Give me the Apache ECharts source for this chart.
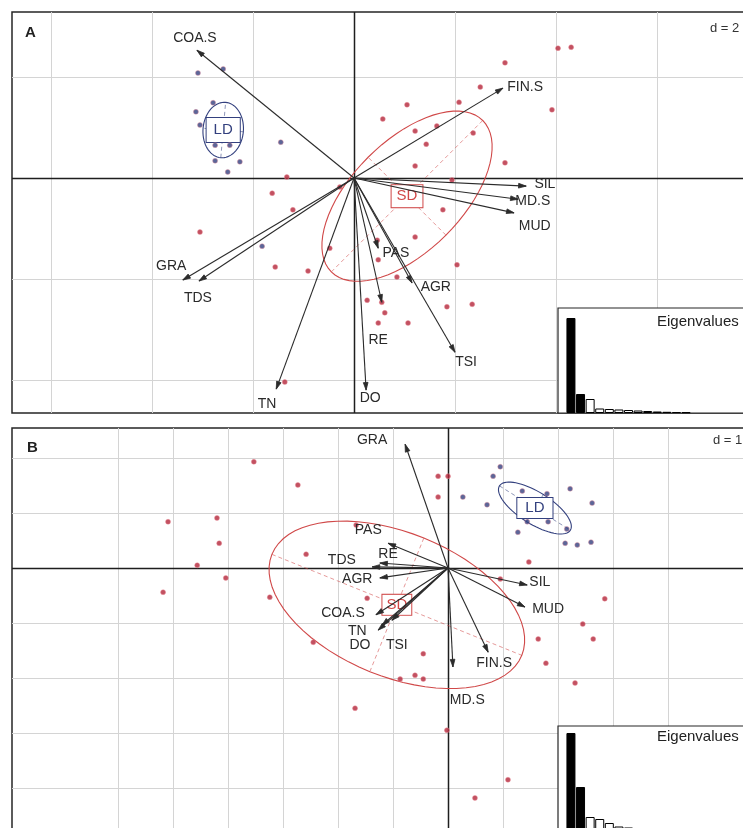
<!DOCTYPE html>
<html>
<head>
<meta charset="utf-8">
<script src="https://cdn.jsdelivr.net/npm/echarts/dist/echarts.min.js"></script>
<style>
  html, body { margin: 0; padding: 0; background: #fff; overflow: hidden; }
  #chart { width: 760px; height: 845px; }
</style>
</head>
<body>
<div id="chart"></div>
<script>
// variable names (same order for both panels)
const varNames = ['COA.S', 'FIN.S', 'SIL', 'MD.S', 'MUD', 'GRA', 'TDS', 'TN', 'DO', 'RE', 'PAS', 'AGR', 'TSI'];

// panel A: arrow tips and label anchors
const arrowA = [[-3.11, 2.53], [2.95, 1.78], [3.41, -0.16], [3.25, -0.42], [3.17, -0.69], [-3.39, -2.02], [-3.07, -2.04],
  [-1.54, -4.18], [0.24, -4.20], [0.55, -2.46], [0.48, -1.39], [1.15, -2.08], [2.00, -3.45]];
const labelA = [[-3.15, 2.77], [3.39, 1.80], [3.78, -0.12], [3.54, -0.46], [3.58, -0.95], [-3.62, -1.74], [-3.09, -2.38],
  [-1.72, -4.48], [0.32, -4.36], [0.48, -3.21], [0.83, -1.49], [1.62, -2.16], [2.22, -3.64]];

// panel B
const arrowB = [[-1.31, -0.85], [0.73, -1.53], [1.44, -0.31], [0.09, -1.80], [1.40, -0.71], [-0.78, 2.25], [-1.38, 0.02],
  [-1.27, -1.13], [-1.20, -1.04], [-1.24, 0.09], [-1.09, 0.45], [-1.24, -0.18], [-1.02, -0.95]];
const labelB = [[-1.91, -0.82], [0.84, -1.73], [1.67, -0.25], [0.35, -2.40], [1.82, -0.75], [-1.38, 2.33], [-1.93, 0.15],
  [-1.65, -1.15], [-1.60, -1.40], [-1.09, 0.25], [-1.45, 0.69], [-1.65, -0.20], [-0.93, -1.40]];

// sample scores
const ldA = [[-3.09, 2.08], [-2.59, 2.16], [-3.13, 1.31], [-2.79, 1.49], [-3.05, 1.05], [-2.75, 0.65], [-2.46, 0.65],
  [-2.75, 0.34], [-2.26, 0.32], [-2.50, 0.12], [-1.45, 0.71], [-1.82, -1.35]];
const sdA = [[4.04, 2.57], [4.30, 2.59], [2.99, 2.28], [2.50, 1.80], [3.92, 1.35], [1.05, 1.45], [2.08, 1.50], [0.57, 1.17],
  [1.21, 0.93], [1.64, 1.03], [1.43, 0.67], [2.36, 0.89], [2.99, 0.30], [1.21, 0.24], [1.94, -0.04], [-1.33, 0.02],
  [-1.62, -0.30], [-1.21, -0.63], [-0.28, -0.18], [1.76, -0.63], [1.21, -1.17], [0.46, -1.23], [-0.48, -1.39],
  [-1.56, -1.76], [-0.91, -1.84], [0.48, -1.62], [2.04, -1.72], [0.85, -1.96], [0.26, -2.42], [0.55, -2.46],
  [1.84, -2.55], [2.34, -2.50], [0.61, -2.67], [0.48, -2.87], [1.07, -2.87], [-1.37, -4.04], [-3.05, -1.07]];
const ldB = [[0.95, 1.84], [0.82, 1.67], [0.27, 1.29], [0.71, 1.15], [1.35, 1.40], [1.80, 1.35], [2.22, 1.44], [2.62, 1.18],
  [1.44, 0.84], [1.82, 0.84], [2.16, 0.71], [1.27, 0.65], [2.13, 0.45], [2.35, 0.42], [2.60, 0.47]];
const sdB = [[-3.53, 1.93], [-2.73, 1.51], [-5.09, 0.84], [-4.20, 0.91], [-4.16, 0.45], [-4.56, 0.05], [-4.04, -0.18],
  [-5.18, -0.44], [-3.24, -0.53], [-2.58, 0.25], [-1.67, 0.78], [-1.47, -0.55], [-2.45, -1.35], [-0.45, -1.56],
  [-0.87, -2.02], [-0.60, -1.95], [-0.45, -2.02], [-0.18, 1.67], [0.0, 1.67], [-0.18, 1.29], [1.47, 0.11], [0.95, -0.20],
  [2.85, -0.56], [2.45, -1.02], [2.64, -1.29], [1.64, -1.29], [1.78, -1.73], [2.31, -2.09], [-0.02, -2.95],
  [1.09, -3.85], [0.49, -4.18], [-1.69, -2.55]];

// class ellipses: centre x, centre y, semi-major, semi-minor, angle (deg)
const ellLdA = [-2.59, 0.95, 0.55, 0.40, 85];
const ellSdA = [1.05, -0.36, 2.12, 1.09, 45];
const ellLdB = [1.58, 1.09, 0.76, 0.29, -32];
const ellSdB = [-0.93, -0.67, 2.45, 1.31, -22];

// eigenvalue bars (relative heights)
const eigA = [9.5, 1.9, 1.4, 0.45, 0.4, 0.35, 0.3, 0.25, 0.2, 0.15, 0.12, 0.1, 0.08];
const eigB = [9.8, 4.4, 1.4, 1.2, 0.8, 0.45, 0.35, 0.25, 0.2, 0.15, 0.1, 0.08];

// grid lines (d = 2 for A, d = 1 for B)
const gridXA = [-6, -4, -2, 2, 4, 6];
const gridYA = [2, -2, -4];
const gridXB = [-6, -5, -4, -3, -2, -1, 1, 2, 3, 4];
const gridYB = [2, 1, -1, -2, -3, -4];

const RED = '#b3263a';
const BLUE = '#33407e';
const FONT = '"Liberation Sans", Arial, sans-serif';

const chart = echarts.init(document.getElementById('chart'));

function vLines(gi, ticks, color, width) {
  return {
    type: 'custom', xAxisIndex: gi, yAxisIndex: gi, z: 1, silent: true, clip: true,
    data: ticks.map(v => [v, 0]),
    renderItem(params, api) {
      const cs = params.coordSys;
      const x = Math.round(api.coord([api.value(0), 0])[0]) + 0.5;
      return { type: 'line', shape: { x1: x, y1: cs.y, x2: x, y2: cs.y + cs.height },
        style: { stroke: color, lineWidth: width } };
    }
  };
}
function hLines(gi, ticks, color, width) {
  return {
    type: 'custom', xAxisIndex: gi, yAxisIndex: gi, z: 1, silent: true, clip: true,
    data: ticks.map(v => [0, v]),
    renderItem(params, api) {
      const cs = params.coordSys;
      const y = Math.round(api.coord([0, api.value(1)])[1]) + 0.5;
      return { type: 'line', shape: { x1: cs.x, y1: y, x2: cs.x + cs.width, y2: y },
        style: { stroke: color, lineWidth: width } };
    }
  };
}

function ellipse(gi, ell, color, name, pad) {
  return {
    type: 'custom', xAxisIndex: gi, yAxisIndex: gi, z: 3, silent: true, clip: true,
    data: [ell], encode: { x: 0, y: 1 },
    renderItem(params, api) {
      const cx = api.value(0), cy = api.value(1), a = api.value(2), b = api.value(3);
      const t0 = api.value(4) * Math.PI / 180;
      const pts = [];
      for (let i = 0; i <= 72; i++) {
        const t = i / 72 * Math.PI * 2;
        pts.push(api.coord([cx + a * Math.cos(t) * Math.cos(t0) - b * Math.sin(t) * Math.sin(t0),
                            cy + a * Math.cos(t) * Math.sin(t0) + b * Math.sin(t) * Math.cos(t0)]));
      }
      const m1 = api.coord([cx - a * Math.cos(t0), cy - a * Math.sin(t0)]);
      const m2 = api.coord([cx + a * Math.cos(t0), cy + a * Math.sin(t0)]);
      const n1 = api.coord([cx + b * Math.sin(t0), cy - b * Math.cos(t0)]);
      const n2 = api.coord([cx - b * Math.sin(t0), cy + b * Math.cos(t0)]);
      const c = api.coord([cx, cy]);
      return { type: 'group', children: [
        { type: 'polyline', shape: { points: pts }, style: { stroke: color, lineWidth: 1.1, fill: null } },
        { type: 'line', shape: { x1: m1[0], y1: m1[1], x2: m2[0], y2: m2[1] },
          style: { stroke: color, lineWidth: 0.8, lineDash: [4, 3], opacity: 0.7 } },
        { type: 'line', shape: { x1: n1[0], y1: n1[1], x2: n2[0], y2: n2[1] },
          style: { stroke: color, lineWidth: 0.8, lineDash: [4, 3], opacity: 0.7 } },
        { type: 'text', x: c[0], y: c[1], z2: 10, style: { text: name, font: '15px ' + FONT, fill: color,
          textAlign: 'center', textVerticalAlign: 'middle', backgroundColor: '#fff',
          borderColor: color, borderWidth: 1, padding: pad } }
      ] };
    }
  };
}

function points(gi, pts, color) {
  return { type: 'scatter', xAxisIndex: gi, yAxisIndex: gi, z: 4, silent: true,
    symbolSize: 5, itemStyle: { color: color, borderColor: 'rgba(240,150,160,0.5)', borderWidth: 1 }, data: pts };
}

function arrows(gi, tips) {
  return {
    type: 'custom', xAxisIndex: gi, yAxisIndex: gi, z: 5, silent: true, clip: true,
    data: tips,
    renderItem(params, api) {
      const o = api.coord([0, 0]);
      const e = api.coord([api.value(0), api.value(1)]);
      const ang = Math.atan2(e[1] - o[1], e[0] - o[0]);
      const h = 8, w = 0.3;
      const p1 = [e[0] - h * Math.cos(ang - w), e[1] - h * Math.sin(ang - w)];
      const p2 = [e[0] - h * Math.cos(ang + w), e[1] - h * Math.sin(ang + w)];
      return { type: 'group', children: [
        { type: 'line', shape: { x1: o[0], y1: o[1], x2: e[0], y2: e[1] }, style: { stroke: '#2b2b2b', lineWidth: 1.1 } },
        { type: 'polygon', shape: { points: [p1, e, p2] }, style: { fill: '#2b2b2b', stroke: '#2b2b2b', lineWidth: 0.8 } }
      ] };
    }
  };
}

function labels(gi, pos) {
  return {
    type: 'custom', xAxisIndex: gi, yAxisIndex: gi, z: 6, silent: true,
    data: pos.map((p, i) => ({ value: p, name: varNames[i] })),
    renderItem(params, api) {
      const c = api.coord([api.value(0), api.value(1)]);
      return { type: 'text', x: c[0], y: c[1], style: { text: varNames[params.dataIndex], font: '14px ' + FONT,
        fill: '#2a2a2a', textAlign: 'center', textVerticalAlign: 'middle' } };
    }
  };
}

function eigBars(gi, vals) {
  return { type: 'bar', xAxisIndex: gi, yAxisIndex: gi, z: 12, silent: true, barWidth: 9, animation: false,
    data: vals.map((v, i) => ({ value: [i + 1, v],
      itemStyle: { color: i < 2 ? '#000' : '#fff', borderColor: '#000', borderWidth: 1 } })) };
}

const hidden = { show: false };
const frame = { show: true, borderColor: '#262626', borderWidth: 1.5, backgroundColor: '#fff' };
const inset = { show: true, borderColor: '#262626', borderWidth: 1.2, backgroundColor: '#fff', z: 10 };

chart.setOption({
  animation: false,
  grid: [
    Object.assign({ left: 12, top: 12, width: 740, height: 401 }, frame),
    Object.assign({ left: 12, top: 428, width: 740, height: 410 }, frame),
    Object.assign({ left: 558, top: 308, width: 200, height: 105 }, inset),
    Object.assign({ left: 558, top: 726, width: 200, height: 105 }, inset)
  ],
  xAxis: [
    { type: 'value', gridIndex: 0, min: -6.772, max: 7.881, ...hidden },
    { type: 'value', gridIndex: 1, min: -7.927, max: 5.527, ...hidden },
    { type: 'value', gridIndex: 2, min: -0.35, max: 20.5, ...hidden },
    { type: 'value', gridIndex: 3, min: -0.35, max: 20.5, ...hidden }
  ],
  yAxis: [
    { type: 'value', gridIndex: 0, min: -4.653, max: 3.287, ...hidden },
    { type: 'value', gridIndex: 1, min: -4.909, max: 2.545, ...hidden },
    { type: 'value', gridIndex: 2, min: 0, max: 10.5, ...hidden },
    { type: 'value', gridIndex: 3, min: 0, max: 10.5, ...hidden }
  ],
  graphic: [
    { type: 'text', left: 25, top: 25, z: 20, style: { text: 'A', font: 'bold 15px ' + FONT, fill: '#222' } },
    { type: 'text', left: 27, top: 440, z: 20, style: { text: 'B', font: 'bold 15px ' + FONT, fill: '#222' } },
    { type: 'text', left: 710, top: 22, z: 20, style: { text: 'd = 2', font: '13px ' + FONT, fill: '#333' } },
    { type: 'text', left: 713, top: 434, z: 20, style: { text: 'd = 1', font: '13px ' + FONT, fill: '#333' } },
    { type: 'text', left: 657, top: 314, z: 20, style: { text: 'Eigenvalues', font: '15px ' + FONT, fill: '#222' } },
    { type: 'text', left: 657, top: 729, z: 20, style: { text: 'Eigenvalues', font: '15px ' + FONT, fill: '#222' } }
  ],
  series: [
    vLines(0, gridXA, '#d4d4d4', 1), hLines(0, gridYA, '#d4d4d4', 1),
    vLines(0, [0], '#1e1e1e', 1.5), hLines(0, [0], '#1e1e1e', 1.5),
    ellipse(0, ellLdA, BLUE, 'LD', [5, 7, 4, 7]), ellipse(0, ellSdA, '#d04848', 'SD', [4, 5, 3, 5]),
    points(0, sdA, RED), points(0, ldA, BLUE),
    arrows(0, arrowA), labels(0, labelA),

    vLines(1, gridXB, '#d4d4d4', 1), hLines(1, gridYB, '#d4d4d4', 1),
    vLines(1, [0], '#1e1e1e', 1.5), hLines(1, [0], '#1e1e1e', 1.5),
    ellipse(1, ellLdB, BLUE, 'LD', [3, 8, 2, 8]), ellipse(1, ellSdB, '#d04848', 'SD', [3, 4, 2, 4]),
    points(1, sdB, RED), points(1, ldB, BLUE),
    arrows(1, arrowB), labels(1, labelB),

    eigBars(2, eigA), eigBars(3, eigB)
  ]
});
</script>
</body>
</html>
